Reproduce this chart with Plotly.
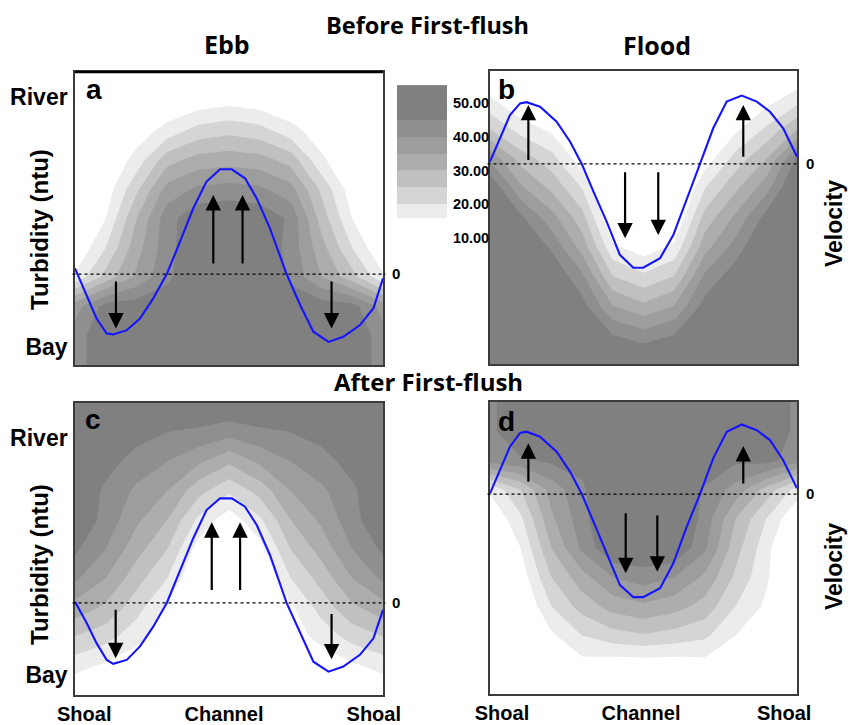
import plotly.graph_objects as go

# ---------------- data ----------------
grid_x = [0, 10, 20, 30, 40, 50, 60, 70, 80, 90, 100]   # % across section (Shoal -> Channel -> Shoal)
grid_y = [0, 10, 20, 30, 40, 50, 60, 70, 80, 90, 100]   # % along estuary (Bay -> River)

# turbidity (ntu) rows listed from River (top, y=100) down to Bay (y=0)
turb_a = [
    [4, 5, 5, 5, 5, 5, 5, 5, 5, 5, 4],
    [4, 6, 8, 10, 12, 13.5, 12, 10, 8, 6, 4],
    [6, 8, 12, 17, 22, 23.5, 22, 17, 12, 8, 6],
    [6, 10, 17, 28, 32, 33, 32, 28, 16, 10, 6],
    [7, 12, 24, 37, 41, 42, 41, 37, 24, 12, 7],
    [8, 15, 30, 43, 49, 50, 49, 44, 28, 15, 8],
    [10, 20, 33, 43, 50, 50, 50, 43, 32, 20, 10],
    [16, 27, 36, 44, 50, 50, 50, 44, 35, 27, 16],
    [38, 47, 48, 48, 50, 50, 50, 48, 48, 47, 38],
    [42, 50, 50, 50, 50, 50, 50, 50, 50, 50, 42],
    [42, 50, 50, 50, 50, 50, 50, 50, 50, 50, 42],
]
turb_b = [
    [8, 4, 4, 4, 5, 5, 5, 4, 4, 6, 10],
    [16, 10, 8, 5, 5, 5, 5, 5, 7, 13, 18],
    [25, 18, 14, 7, 5, 5, 5, 7, 14, 21, 30],
    [39, 28, 22, 12, 5, 5, 5, 12, 22, 30, 46],
    [50, 36, 29, 20, 5, 5, 5, 20, 29, 38, 52],
    [52, 46, 37, 27, 9, 5, 9, 27, 36, 47, 52],
    [52, 52, 44, 33, 16, 12, 16, 33, 42, 52, 52],
    [52, 52, 50, 41, 25, 21, 25, 41, 48, 52, 52],
    [52, 52, 52, 47, 35, 31, 35, 47, 52, 52, 52],
    [52, 52, 52, 52, 45, 42, 45, 52, 52, 52, 52],
    [52, 52, 52, 52, 52, 52, 52, 52, 52, 52, 52],
]
turb_c = [
    [50, 50, 50, 50, 50, 50, 50, 50, 50, 50, 50],
    [50, 50, 47, 45, 44, 42, 44, 45, 47, 50, 50],
    [50, 47, 43, 40, 36, 31, 36, 40, 43, 47, 50],
    [50, 44, 39, 35, 27, 21, 27, 35, 39, 44, 50],
    [50, 43, 36, 30, 19, 12, 19, 30, 36, 43, 50],
    [46, 40, 32, 25, 13, 8, 13, 25, 32, 40, 46],
    [41, 35, 27, 20, 9, 5, 9, 20, 27, 35, 41],
    [33, 29, 22, 14, 7, 5, 7, 14, 22, 29, 33],
    [25, 22, 17, 12, 5, 5, 5, 12, 17, 22, 25],
    [17, 14, 11, 8, 5, 5, 5, 8, 11, 14, 17],
    [10, 8, 6, 5, 5, 5, 5, 5, 6, 8, 10],
]
turb_d = [
    [43, 52, 52, 52, 52, 52, 52, 52, 52, 52, 43],
    [43, 52, 52, 52, 52, 52, 52, 52, 52, 52, 43],
    [42, 44, 46, 47, 52, 52, 52, 52, 46, 47, 42],
    [16, 25, 37, 44, 52, 52, 52, 44, 38, 28, 18],
    [10, 19, 34, 43, 52, 52, 52, 43, 30, 20, 10],
    [5, 15, 30, 41, 50, 50, 50, 41, 27, 17, 5],
    [5, 12, 25, 33, 40, 42.5, 40, 34, 24, 16, 5],
    [5, 9, 20, 27, 32, 34, 32, 28, 20, 14, 5],
    [5, 7, 14, 20, 23, 24.5, 23, 21, 15, 9, 5],
    [5, 5, 8, 13, 12, 12, 12, 13, 10, 6, 5],
    [5, 5, 5, 6, 5, 5, 5, 6, 5, 5, 5],
]

# velocity profiles (cross-section position %, velocity arbitrary units)
vel_x_ebb = [0, 3.8, 7.0, 10.3, 12.4, 16.8, 21.1, 25.4, 29.8, 34.1, 38.4, 42.7, 47.1,
             50.9, 55.2, 59.0, 63.3, 68.7, 73.1, 77.4, 82.3, 87.1, 92.5, 96.9, 100]
vel_a = [1.9, -7.0, -14.8, -19.8, -20.1, -18.7, -14.8, -8.1, 0, 10.8, 21.9, 30.8, 34.9,
         34.9, 31.9, 25.2, 15.2, 0, -10.3, -19.2, -22.6, -20.9, -17.0, -11.4, -1.4]
vel_c = [0.4, -6.7, -13.4, -19.0, -20.3, -19.0, -14.5, -7.9, 0, 10.5, 21.6, 31.0, 34.9,
         34.9, 32.1, 26.0, 16.0, 0, -10.2, -19.6, -22.9, -21.2, -17.3, -11.8, -2.3]
vel_x_flood = [0, 3.3, 6.5, 9.8, 11.9, 16.3, 21.7, 26.1, 29.9, 33.7, 38.0, 42.3, 46.7,
               49.9, 55.4, 59.7, 64.1, 68.4, 72.7, 77.1, 82.0, 86.9, 91.2, 95.5, 100]
vel_b = [0.8, 8.6, 16.3, 20.2, 20.6, 19.1, 14.1, 7.4, 0, -9.2, -19.2, -30.3, -34.6,
         -34.6, -31.4, -23.7, -11.4, 0, 11.9, 20.8, 22.8, 20.8, 17.4, 11.9, 2.4]
vel_d = [0.2, 8.0, 15.8, 20.4, 20.8, 19.1, 14.1, 7.4, 0, -9.2, -19.8, -30.3, -34.4,
         -34.4, -31.4, -23.1, -10.9, 0, 11.9, 20.8, 23.2, 21.3, 18.0, 11.3, 1.9]

# flow arrows: position, tail velocity, head velocity
arrow_x_a = [44.9, 54.4, 13.3, 83.3]
arrow_tail_a = [3, 3, -2, -2]
arrow_head_a = [26.3, 26.3, -18.1, -18.1]
arrow_x_b = [12.5, 82.5, 44.0, 54.8]
arrow_tail_b = [0.8, 1.9, -2.3, -2.3]
arrow_head_b = [19.7, 19.7, -24.8, -23.7]
arrow_x_c = [44.4, 53.6, 13.2, 83.3]
arrow_tail_c = [3.8, 3.8, -1.8, -3.2]
arrow_head_c = [26.9, 26.9, -18.4, -18.8]
arrow_x_d = [12.5, 82.5, 44.2, 54.5]
arrow_tail_d = [3.6, 3.0, -5.9, -6.7]
arrow_head_d = [16.9, 16.0, -26.4, -25.9]

# turbidity legend
legend_edges = [15.9, 20, 25, 30, 35, 40, 45, 55.3]
legend_mid = [17.5, 22.5, 27.5, 32.5, 37.5, 42.5, 47.5]
legend_ticks = [10, 20, 30, 40, 50]
legend_ticktext = ["10.00", "20.00", "30.00", "40.00", "50.00"]

# ---------------- styling ----------------
LEV_START, LEV_END, LEV_SIZE = 15, 45, 5
band_colors = ["#ffffff", "#ececec", "#d5d5d5", "#c0c0c0", "#adadad",
               "#9d9d9d", "#8f8f8f", "#808080"]
n = len(band_colors) - 1
cscale = []
for k, c in enumerate(band_colors):
    lo = max(0.0, (k - 0.5) / n)
    hi = min(1.0, (k + 0.5) / n)
    cscale.append([lo, c])
    cscale.append([hi, c])

LABEL_FONT = "Liberation Sans, Arial, sans-serif"
TITLE_FONT = "Open Sans, sans-serif"
OFF = 8            # page body margin in the browser
W, H = 856 - OFF, 725 - OFF


def px_x(p):
    return (p - OFF) / W


def px_y(p):
    return 1 - (p - OFF) / H


panels = {
    "a": dict(xa="x", ya="y", va="y5", xd=(75, 383), yd=(72, 365), vr=(-30.3, 67.3),
              turb=turb_a, vx=vel_x_ebb, vel=vel_a,
              ax=arrow_x_a, at=arrow_tail_a, ah=arrow_head_a),
    "b": dict(xa="x2", ya="y2", va="y6", xd=(490, 797), yd=(71, 364), vr=(-66.7, 31.0),
              turb=turb_b, vx=vel_x_flood, vel=vel_b,
              ax=arrow_x_b, at=arrow_tail_b, ah=arrow_head_b),
    "c": dict(xa="x3", ya="y3", va="y7", xd=(75, 383), yd=(403, 695), vr=(-30.7, 66.7),
              turb=turb_c, vx=vel_x_ebb, vel=vel_c,
              ax=arrow_x_c, at=arrow_tail_c, ah=arrow_head_c),
    "d": dict(xa="x4", ya="y4", va="y8", xd=(490, 797), yd=(402, 694), vr=(-66.7, 30.7),
              turb=turb_d, vx=vel_x_flood, vel=vel_d,
              ax=arrow_x_d, at=arrow_tail_d, ah=arrow_head_d),
}

fig = go.Figure()
annotations = []
shapes = []

for key, p in panels.items():
    fig.add_trace(go.Contour(
        x=grid_x, y=grid_y, z=p["turb"][::-1],
        autocontour=False,
        contours=dict(start=LEV_START, end=LEV_END, size=LEV_SIZE,
                      coloring="fill", showlines=False),
        line=dict(width=0, smoothing=0),
        colorscale=cscale, showscale=False, hoverinfo="skip",
        xaxis=p["xa"], yaxis=p["ya"]))
    fig.add_trace(go.Scatter(
        x=p["vx"], y=p["vel"], mode="lines",
        line=dict(color="#1414ff", width=2.1),
        xaxis=p["xa"], yaxis=p["va"], showlegend=False, hoverinfo="skip"))
    shapes.append(dict(type="line", xref=p["xa"] + " domain", yref=p["va"],
                       x0=-0.008, x1=1.008, y0=0, y1=0,
                       line=dict(color="black", width=1.3, dash="dot")))
    for xx, t, h in zip(p["ax"], p["at"], p["ah"]):
        annotations.append(dict(
            x=xx, y=h, ax=xx, ay=t, xref=p["xa"], yref=p["va"],
            axref=p["xa"], ayref=p["va"], text="", showarrow=True,
            arrowhead=2, arrowsize=1.4, arrowwidth=2.2, arrowcolor="black",
            standoff=0, startstandoff=0))

# darker top edge of panel a
shapes.append(dict(type="line", xref="x domain", yref="y domain", x0=0, x1=1, y0=1, y1=1,
                   line=dict(color="black", width=2.5)))

# legend heatmap
fig.add_trace(go.Heatmap(
    x=[0, 1], y=legend_edges, z=[[v] for v in legend_mid],
    colorscale=cscale, zmin=12.5, zmax=47.5, showscale=False,
    hoverinfo="skip", xaxis="x5", yaxis="y9"))

frame = dict(showline=True, mirror=True, linecolor="#3c3c3c", linewidth=1.5,
             showgrid=False, zeroline=False, ticks="", automargin=False)
layout = dict(
    width=W, height=H, margin=dict(l=0, r=0, t=0, b=0),
    paper_bgcolor="white", plot_bgcolor="white", showlegend=False,
)

xticks_c = [3, 48.4, 97]
xticks_d = [3.9, 49.2, 95.8]
xtick_text = ["Shoal", "Channel", "Shoal"]
ytick_text = ["River", "Bay"]
yticks_a = [91.5, 6.1]
yticks_c = [88, 6.8]

lab_font = dict(family=LABEL_FONT, size=20, color="black")
for i, (key, p) in enumerate(panels.items(), start=1):
    xname = "xaxis" if i == 1 else f"xaxis{i}"
    yname = "yaxis" if i == 1 else f"yaxis{i}"
    vname = f"yaxis{i + 4}"
    xa = dict(frame, domain=[px_x(p["xd"][0]), px_x(p["xd"][1])], range=[0, 100],
              anchor=p["ya"], showticklabels=False)
    if key in ("c", "d"):
        xa.update(showticklabels=True, tickvals=xticks_c if key == "c" else xticks_d,
                  ticktext=[f"<b>{t}</b>" for t in xtick_text], tickfont=lab_font,
                  ticks="")
    ya = dict(frame, domain=[px_y(p["yd"][1]), px_y(p["yd"][0])], range=[0, 100],
              anchor=p["xa"], showticklabels=False)
    if key in ("a", "c"):
        ya.update(showticklabels=True, tickvals=yticks_a if key == "a" else yticks_c,
                  ticktext=[f"<b>{t}</b>" for t in ytick_text],
                  tickfont=dict(family=LABEL_FONT, size=23, color="black"),
                  ticks="outside", ticklen=1, tickcolor="rgba(0,0,0,0)")
    va = dict(overlaying=p["ya"], anchor=p["xa"], side="right", range=list(p["vr"]),
              showgrid=False, zeroline=False, showline=False, ticks="outside",
              ticklen=5, tickcolor="rgba(0,0,0,0)", automargin=False,
              tickvals=[0], ticktext=["<b>0</b>"],
              tickfont=dict(family=LABEL_FONT, size=15, color="black"))
    layout[xname] = xa
    layout[yname] = ya
    layout[vname] = va

layout["xaxis5"] = dict(domain=[px_x(397), px_x(447)], range=[0, 1], anchor="y9",
                        showticklabels=False, showgrid=False, zeroline=False, ticks="",
                        automargin=False)
layout["yaxis9"] = dict(domain=[px_y(245), px_y(85)], range=[7.93, 55.33], anchor="x5",
                        side="right", showgrid=False, zeroline=False, showline=False,
                        tickvals=legend_ticks, automargin=False,
                        ticktext=[f"<b>{t}</b>" for t in legend_ticktext],
                        tickfont=dict(family=LABEL_FONT, size=14.5, color="black"),
                        ticks="outside", ticklen=2, tickcolor="rgba(0,0,0,0)")


def txt(text, x, y, size, family=LABEL_FONT, angle=0):
    return dict(text=f"<b>{text}</b>", x=px_x(x), y=px_y(y), xref="paper", yref="paper",
                showarrow=False, xanchor="center", yanchor="middle", textangle=angle,
                font=dict(family=family, size=size, color="black"))


annotations += [
    txt("Before First-flush", 427, 25, 23.5, TITLE_FONT),
    txt("Ebb", 227, 44, 25, TITLE_FONT),
    txt("Flood", 657, 45, 25, TITLE_FONT),
    txt("After First-flush", 428, 381, 24, TITLE_FONT),
    txt("Turbidity (ntu)", 39, 230, 24, angle=-90),
    txt("Turbidity (ntu)", 39, 565, 24, angle=-90),
    txt("Velocity", 834, 224, 23, angle=-90),
    txt("Velocity", 834, 567, 23, angle=-90),
    txt("a", 94, 90, 28),
    txt("b", 506, 89, 28),
    txt("c", 93, 419, 28),
    txt("d", 506, 421, 28),
]
layout["annotations"] = annotations
layout["shapes"] = shapes
fig.update_layout(**layout)
fig.write_html("out.html")
